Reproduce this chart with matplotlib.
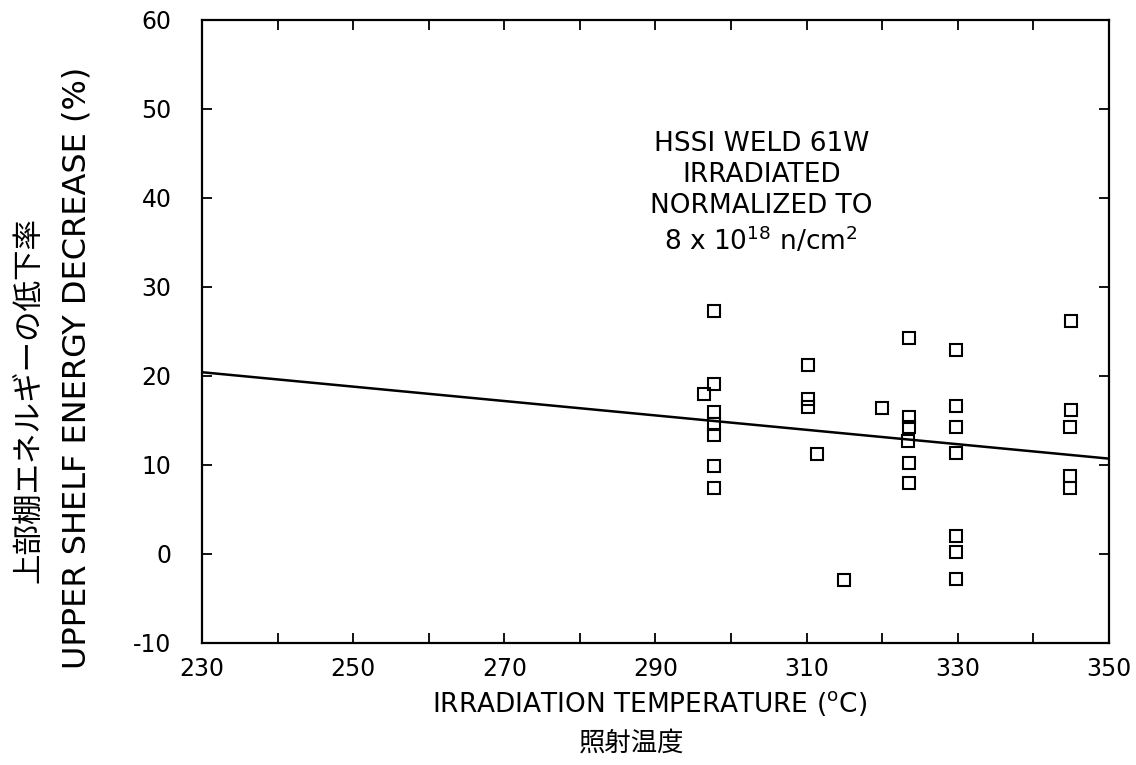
import matplotlib
matplotlib.use("Agg")
import matplotlib.pyplot as plt
from matplotlib.ticker import MultipleLocator

plt.rcParams['font.family'] = ['DejaVu Sans', 'Noto Sans CJK JP']
plt.rcParams['axes.unicode_minus'] = False

# ---- data ----
temperature = [297.8, 297.8, 296.4, 297.8, 297.8, 297.8, 297.7, 297.7,
               310.2, 310.2, 310.2, 311.4, 314.9,
               320.0, 323.6, 323.5, 323.5, 323.4, 323.5, 323.5,
               329.8, 329.8, 329.8, 329.8, 329.7, 329.7, 329.7,
               345.0, 345.0, 344.9, 344.8, 344.8]
decrease = [27.3, 19.1, 17.95, 15.9, 14.6, 13.4, 9.9, 7.4,
            21.2, 17.4, 16.5, 11.2, -2.9,
            16.35, 24.2, 15.4, 14.3, 12.7, 10.2, 8.0,
            22.9, 16.6, 14.3, 11.3, 2.0, 0.25, -2.85,
            26.2, 16.2, 14.3, 8.7, 7.4]
fit_temperature = [230, 350]
fit_decrease = [20.4, 10.7]

x_ticks = [230, 250, 270, 290, 310, 330, 350]
y_ticks = [-10, 0, 10, 20, 30, 40, 50, 60]

fig = plt.figure(figsize=(11.36, 7.65), dpi=100)
ax = fig.add_axes([202/1136, 1 - 643/765, (1109-202)/1136, (643-19.5)/765])

ax.plot(fit_temperature, fit_decrease, color='black', lw=1.8, zorder=2)
ax.plot(temperature, decrease, linestyle='none', marker='s', markersize=8.5,
        markerfacecolor='none', markeredgecolor='black', markeredgewidth=1.5, zorder=3)

ax.set_xlim(230, 350)
ax.set_ylim(-10, 60)
ax.set_xticks(x_ticks)
ax.set_yticks(y_ticks)
ax.xaxis.set_minor_locator(MultipleLocator(10))
ax.tick_params(axis='both', which='both', direction='in', top=True, right=True,
               length=7, width=1.3, labelsize=17)
ax.tick_params(axis='x', pad=10)
ax.tick_params(axis='y', pad=22)
for s in ax.spines.values():
    s.set_linewidth(1.6)

ax.text(304, 40.5, "HSSI WELD 61W\nIRRADIATED\nNORMALIZED TO\n8 x 10$^{18}$ n/cm$^2$",
        ha='center', va='center', fontsize=19, linespacing=1.25)

fig.text(650/1136, 1 - 703/765, "IRRADIATION TEMPERATURE ($^{\\mathrm{o}}$C)", ha='center', va='center', fontsize=19)
fig.text(632/1136, 1 - 743/765, "照射温度", ha='center', va='center', fontsize=19,
         family=['Noto Sans CJK JP'])
fig.text(77/1136, 1 - 368/765, "UPPER SHELF ENERGY DECREASE (%)", rotation=90,
         ha='center', va='center', fontsize=23)
fig.text(29/1136, 1 - 400/765, "上部棚エネルギーの低下率", rotation=90,
         ha='center', va='center', fontsize=22, family=['Noto Sans CJK JP'])

fig.savefig("out.png", dpi=100, facecolor='white')
